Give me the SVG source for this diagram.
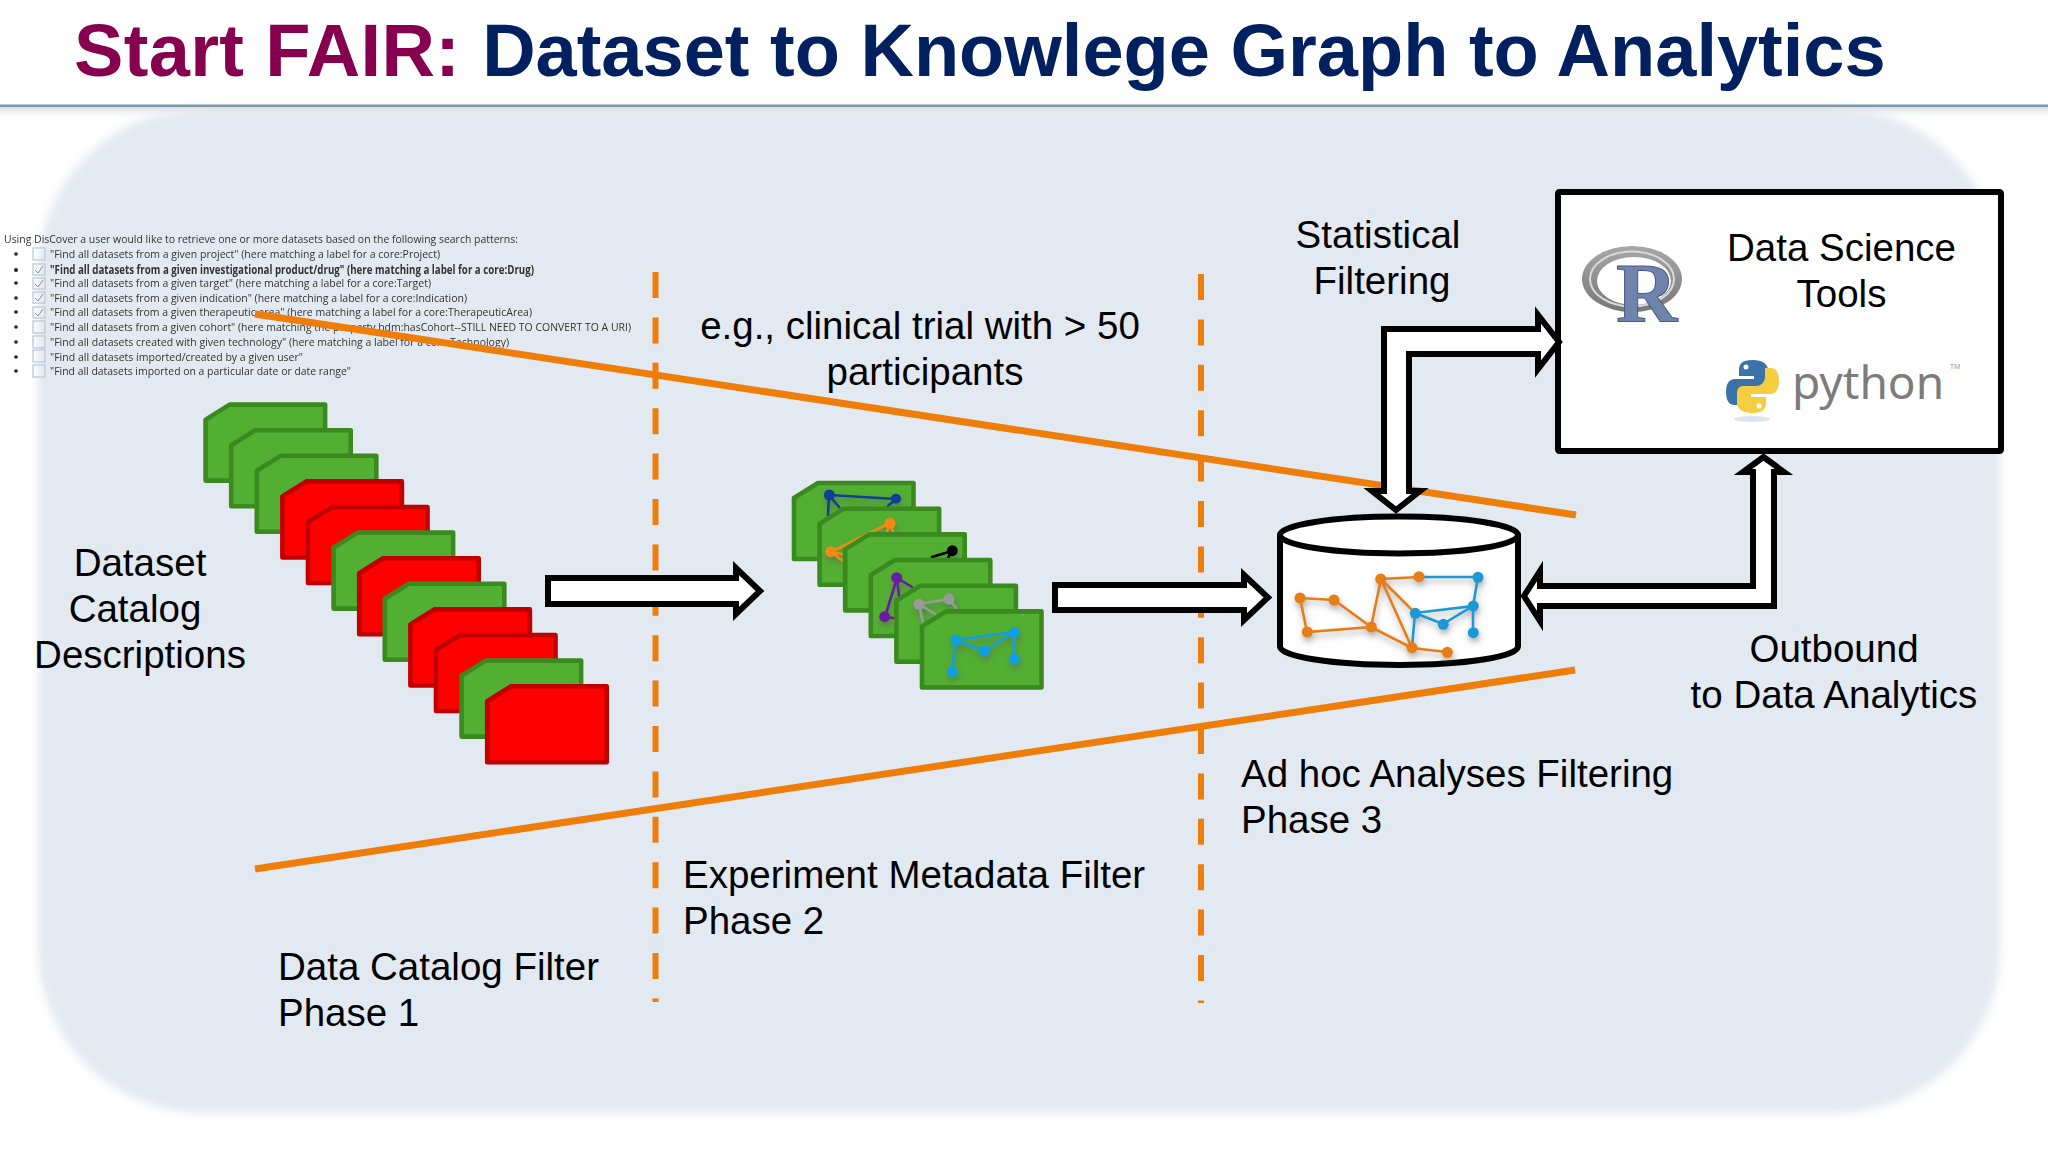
<svg xmlns="http://www.w3.org/2000/svg" xmlns:xlink="http://www.w3.org/1999/xlink" width="2048" height="1152" viewBox="0 0 2048 1152">
<style>
text{font-family:"Liberation Sans",Arial,sans-serif;fill:#000}
.lbl{font-size:38.5px}
.mid{text-anchor:middle}
.ttl{font-size:74px;font-weight:bold}
.lst{font-size:11.5px;fill:#333;font-family:"Open Sans","Liberation Sans",sans-serif}
.card{stroke-width:4.6;stroke-linejoin:round}
.g{fill:#53af32;stroke:#3b8a1f}
.r{fill:#ff0000;stroke:#c00000}
.fat{fill:#fff;stroke:#000;stroke-width:6;stroke-linejoin:miter;stroke-miterlimit:10}
.orange{stroke:#ee7d0a;stroke-width:7;fill:none}
.dash{stroke:#ee7d0a;stroke-width:6;fill:none;stroke-dasharray:26 19.4}
.edge{fill:none;stroke-width:2.6;stroke-linecap:round}
.box{fill:none;stroke:#b9c6d6;stroke-width:1.2}
.chk{fill:none;stroke:#8a8f98;stroke-width:1}
</style>
<defs>
<path id="c" d="M0 15L24 0H119.5V76H0Z"/>
<filter id="bg" x="-5%" y="-5%" width="110%" height="110%"><feGaussianBlur stdDeviation="4"/></filter>
<filter id="soft" x="-2%" y="-20%" width="104%" height="140%"><feGaussianBlur stdDeviation="0.6"/></filter>
<filter id="sh" x="-20%" y="-20%" width="140%" height="150%"><feDropShadow dx="1" dy="4" stdDeviation="3" flood-color="#555" flood-opacity="0.5"/></filter>
<linearGradient id="rule" x1="0" y1="0" x2="0" y2="1"><stop offset="0" stop-color="#d3dae0"/><stop offset="1" stop-color="#f6f7f8" stop-opacity="0"/></linearGradient>
<linearGradient id="ring" x1="0" y1="0" x2="0" y2="1"><stop offset="0" stop-color="#a8a8a8"/><stop offset="1" stop-color="#777"/></linearGradient>
</defs>

<rect width="2048" height="1152" fill="#fff"/>
<rect id="panel" x="38" y="108" width="1962" height="1005" rx="165" ry="165" fill="#e3e9f0" filter="url(#bg)"/>
<rect x="0" y="106" width="2048" height="13" fill="url(#rule)"/>
<rect x="0" y="104.5" width="2048" height="2.5" fill="#7f97a9"/>

<g id="title"><text class="ttl" x="74" y="76"><tspan style="fill:#87004f;letter-spacing:0.35px">Start FAIR: </tspan><tspan dx="1" style="fill:#002060">Dataset to Knowlege Graph to Analytics</tspan></text></g>

<g id="search-list">
<g filter="url(#soft)">
<text class="lst" x="4" y="243" textLength="514" lengthAdjust="spacingAndGlyphs">Using DisCover a user would like to retrieve one or more datasets based on the following search patterns:</text>
<text class="lst" x="50" y="258" textLength="390" lengthAdjust="spacingAndGlyphs">"Find all datasets from a given project" (here matching a label for a core:Project)</text>
<text class="lst" x="50" y="274" textLength="484" lengthAdjust="spacingAndGlyphs" style="font-weight:bold">"Find all datasets from a given investigational product/drug" (here matching a label for a core:Drug)</text>
<text class="lst" x="50" y="287" textLength="381" lengthAdjust="spacingAndGlyphs">"Find all datasets from a given target" (here matching a label for a core:Target)</text>
<text class="lst" x="50" y="302" textLength="417" lengthAdjust="spacingAndGlyphs">"Find all datasets from a given indication" (here matching a label for a core:Indication)</text>
<text class="lst" x="50" y="316" textLength="482" lengthAdjust="spacingAndGlyphs">"Find all datasets from a given therapeutic area" (here matching a label for a core:TherapeuticArea)</text>
<text class="lst" x="50" y="331" textLength="581" lengthAdjust="spacingAndGlyphs">"Find all datasets from a given cohort" (here matching the property bdm:hasCohort--STILL NEED TO CONVERT TO A URI)</text>
<text class="lst" x="50" y="346" textLength="459" lengthAdjust="spacingAndGlyphs">"Find all datasets created with given technology" (here matching a label for a core:Technology)</text>
<text class="lst" x="50" y="361" textLength="253" lengthAdjust="spacingAndGlyphs">"Find all datasets imported/created by a given user"</text>
<text class="lst" x="50" y="375" textLength="301" lengthAdjust="spacingAndGlyphs">"Find all datasets imported on a particular date or date range"</text>
<g fill="#222">
<circle cx="16" cy="254" r="1.8"/><circle cx="16" cy="270" r="2"/><circle cx="16" cy="283" r="1.8"/><circle cx="16" cy="298" r="1.8"/><circle cx="16" cy="312" r="1.8"/><circle cx="16" cy="327" r="1.8"/><circle cx="16" cy="342" r="1.8"/><circle cx="16" cy="357" r="1.8"/><circle cx="16" cy="371" r="1.8"/>
</g>
<g class="box">
<rect x="33" y="248" width="12" height="12"/><rect x="33" y="264" width="12" height="11"/><rect x="33" y="278" width="12" height="11"/><rect x="33" y="292" width="12" height="11"/><rect x="33" y="307" width="12" height="11"/><rect x="33" y="321" width="12" height="12"/><rect x="33" y="336" width="12" height="12"/><rect x="33" y="350" width="12" height="12"/><rect x="33" y="365" width="12" height="12"/>
</g>
<path class="chk" d="M35 270l3 3 5-7M35 284l3 3 5-7M35 298l3 3 5-7M35 313l3 3 5-7"/>
</g>
</g>

<g id="connectors">
<path class="orange" d="M255 314L1576 515"/>
<path class="orange" d="M255 869L1575 670"/>
<path class="dash" d="M655.5 272V1002"/>
<path class="dash" d="M1201 274V1003"/>
<path class="fat" d="M548 578H736V568L760 591L736 614V604H548Z"/>
<path class="fat" d="M1055 585H1244V575L1268 597.5L1244 620V610H1055Z"/>
</g>

<g id="dataset-cards">
<use xlink:href="#c" href="#c" class="card g" x="205.6" y="404.6"/>
<use xlink:href="#c" href="#c" class="card g" x="231.2" y="430.2"/>
<use xlink:href="#c" href="#c" class="card g" x="256.8" y="455.8"/>
<use xlink:href="#c" href="#c" class="card r" x="282.4" y="481.4"/>
<use xlink:href="#c" href="#c" class="card r" x="308" y="507"/>
<use xlink:href="#c" href="#c" class="card g" x="333.6" y="532.6"/>
<use xlink:href="#c" href="#c" class="card r" x="359.2" y="558.2"/>
<use xlink:href="#c" href="#c" class="card g" x="384.8" y="583.8"/>
<use xlink:href="#c" href="#c" class="card r" x="410.4" y="609.4"/>
<use xlink:href="#c" href="#c" class="card r" x="436" y="635"/>
<use xlink:href="#c" href="#c" class="card g" x="461.6" y="660.6"/>
<use xlink:href="#c" href="#c" class="card r" x="487.2" y="686.2"/>
</g>

<g id="metadata-cards">
<use xlink:href="#c" href="#c" class="card g" x="794" y="483"/>
<g filter="url(#sh)"><path class="edge" stroke="#0b3f96" d="M829 495L896 499M829 495L828 515M829 495L839 507M896 499L888 506"/><g fill="#0b3f96"><circle cx="829.3" cy="495" r="5.5"/><circle cx="896" cy="498.7" r="5"/></g></g>
<use xlink:href="#c" href="#c" class="card g" x="819.6" y="508.7"/>
<g filter="url(#sh)"><path class="edge" stroke="#f08a12" d="M890 523L831 552M831 552L843 561M831 552L842 554M890 523L893 532M890 523L887 532"/><g fill="#f08a12"><circle cx="890" cy="523.3" r="5.5"/><circle cx="830.7" cy="551.7" r="5.5"/></g></g>
<use xlink:href="#c" href="#c" class="card g" x="845.2" y="534.4"/>
<g filter="url(#sh)"><path class="edge" stroke="#000" d="M952 551L932 557M952 551L948 558"/><circle cx="952.3" cy="550.7" r="5.5" fill="#000"/></g>
<use xlink:href="#c" href="#c" class="card g" x="870.8" y="560"/>
<g filter="url(#sh)"><path class="edge" stroke="#6a1e9e" d="M897 578L885 617M897 578L912 587M897 578L899 596M885 617L893 618"/><g fill="#6a1e9e"><circle cx="896.7" cy="577.7" r="5.5"/><circle cx="884.7" cy="616.7" r="5.5"/></g></g>
<use xlink:href="#c" href="#c" class="card g" x="896.4" y="585.7"/>
<g filter="url(#sh)"><path class="edge" stroke="#9a9a9a" d="M919 604L949 599M919 604L935 614M919 604L923 623M949 599L956 608"/><g fill="#9a9a9a"><circle cx="919" cy="604.3" r="5.5"/><circle cx="949" cy="599" r="5.5"/></g></g>
<use xlink:href="#c" href="#c" class="card g" x="922" y="611.4"/>
<g filter="url(#sh)"><path class="edge" stroke="#0d9fe0" d="M956 640L1014 632M956 640L984 651L1014 632V659M956 640L952 672"/><g fill="#0d9fe0"><circle cx="956" cy="640" r="5.5"/><circle cx="1014.3" cy="632.3" r="5.5"/><circle cx="984.3" cy="651" r="5.5"/><circle cx="1014.3" cy="659" r="5.5"/><circle cx="952.3" cy="671.7" r="5.5"/></g></g>
</g>

<g id="knowledge-graph">
<path d="M1280 535A119 18.5 0 0 1 1518 535V646.5A119 18.5 0 0 1 1280 646.5Z" fill="#fff" stroke="#000" stroke-width="6"/>
<path d="M1280 535A119 18.5 0 0 0 1518 535" fill="none" stroke="#000" stroke-width="6"/>
<g filter="url(#sh)">
<path class="edge" stroke="#e67e17" d="M1300 598L1334 600L1371 627L1307 632L1300 598M1371 627L1381 579L1419 577M1381 579L1415 613M1381 579L1412 648L1447 652M1371 627L1412 648"/>
<path class="edge" stroke="#1b98d5" d="M1419 577H1478L1473 606L1415 613L1443 624L1473 606V633M1415 613L1412 648"/>
<g fill="#e67e17"><circle cx="1300" cy="598" r="5.5"/><circle cx="1334" cy="600" r="5.5"/><circle cx="1307.3" cy="632" r="5.5"/><circle cx="1371.3" cy="627" r="5.5"/><circle cx="1380.7" cy="579" r="5.5"/><circle cx="1419" cy="576.7" r="5.5"/><circle cx="1412" cy="647.7" r="5.5"/><circle cx="1447.3" cy="652.3" r="5.5"/></g>
<g fill="#1b98d5"><circle cx="1478" cy="577.3" r="5.5"/><circle cx="1473.3" cy="606" r="5.5"/><circle cx="1415.3" cy="613.3" r="5.5"/><circle cx="1443.3" cy="624.3" r="5.5"/><circle cx="1473.3" cy="632.7" r="5.5"/></g>
</g>
</g>

<g id="tools-box">
<rect x="1558" y="192" width="443" height="259" rx="1.5" fill="#fff" stroke="#000" stroke-width="6"/>
<text class="lbl mid" x="1841.5" y="260.7">Data Science</text>
<text class="lbl mid" x="1841.5" y="306.7">Tools</text>
<g id="r-logo">
<path fill-rule="evenodd" fill="url(#ring)" d="M1582 279a50 33 0 1 0 100 0a50 33 0 1 0-100 0ZM1597 281a37 24 0 1 1 74 0a37 24 0 1 1-74 0Z"/>
<ellipse cx="1632" cy="279" rx="42" ry="27.5" fill="none" stroke="#d9d9d9" stroke-width="2"/>
<text x="1616" y="322" style="font-family:'Liberation Serif',serif;font-size:85px;font-weight:bold;fill:#6f83ad;stroke:#4a5a80;stroke-width:1">R</text>
</g>
<g id="python-logo">
<ellipse cx="1752" cy="419" rx="18" ry="3" fill="#dfe3f3"/>
<path fill="#3b72a8" d="M1753 360C1742 360 1739 364 1739 370V376H1754V379H1735C1729 379 1726 384 1726 392C1726 400 1729 405 1734 405H1740V396C1740 391 1744 387 1749 387H1762C1766 387 1768 384 1768 380V370C1768 364 1762 360 1753 360Z"/>
<path fill="#f6cd3e" transform="rotate(180 1752.5 386.5)" d="M1753 360C1742 360 1739 364 1739 370V376H1754V379H1735C1729 379 1726 384 1726 392C1726 400 1729 405 1734 405H1740V396C1740 391 1744 387 1749 387H1762C1766 387 1768 384 1768 380V370C1768 364 1762 360 1753 360Z"/>
<circle cx="1746" cy="367" r="2.5" fill="#fff"/><circle cx="1759" cy="406" r="2.5" fill="#fff"/>
<text x="1792" y="399" style="font-family:'Noto Sans',sans-serif;font-size:46px;fill:#7c7c7c">python</text>
<text x="1950" y="369" style="font-family:'Noto Sans',sans-serif;font-size:7px;fill:#999">TM</text>
</g>
</g>

<g id="connectors-fat">
<path class="fat" d="M1384 491V329H1538V315L1559 342L1538 369V354H1409V491H1420L1396 510L1372 491Z"/>
<path class="fat" d="M1763.5 457L1784 472H1774V606H1540V621L1524 596L1540 571V586H1753V472H1743Z"/>
</g>

<g id="labels">
<text class="lbl mid" x="1378" y="247.7">Statistical</text>
<text class="lbl mid" x="1382" y="293.7">Filtering</text>
<text class="lbl mid" x="920" y="338.7">e.g., clinical trial with &gt; 50</text>
<text class="lbl mid" x="925" y="384.7">participants</text>
<text class="lbl mid" x="140" y="575.7">Dataset</text>
<text class="lbl mid" x="135" y="621.7">Catalog</text>
<text class="lbl mid" x="140" y="667.7">Descriptions</text>
<text class="lbl mid" x="1834" y="661.7">Outbound</text>
<text class="lbl mid" x="1834" y="707.7">to Data Analytics</text>
<text class="lbl" x="1241" y="786.7">Ad hoc Analyses Filtering</text>
<text class="lbl" x="1241" y="832.7">Phase 3</text>
<text class="lbl" x="683" y="887.7">Experiment Metadata Filter</text>
<text class="lbl" x="683" y="933.7">Phase 2</text>
<text class="lbl" x="278" y="979.7">Data Catalog Filter</text>
<text class="lbl" x="278" y="1025.7">Phase 1</text>
</g>
</svg>
